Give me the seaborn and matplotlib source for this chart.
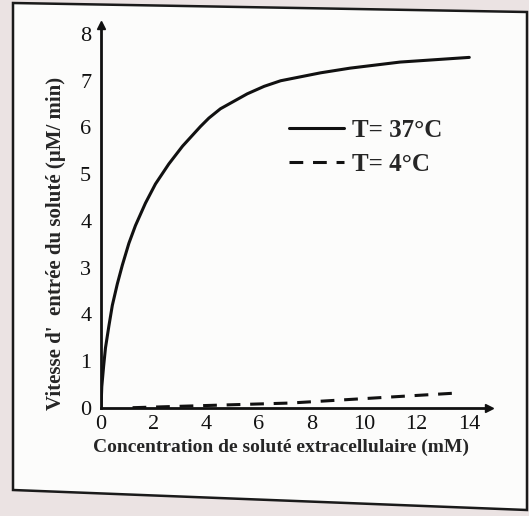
import numpy as np
import pandas as pd
import matplotlib
matplotlib.use("Agg")
import matplotlib.pyplot as plt
from matplotlib.patches import Polygon
from matplotlib.lines import Line2D
import seaborn as sns

# values
conc_37 = [0.0, 0.03, 0.1, 0.17, 0.3, 0.43, 0.62, 0.81, 1.06, 1.31, 1.69, 2.07,
           2.58, 3.1, 3.78, 4.1, 4.54, 5.56, 6.2, 6.83, 8.35, 9.47, 11.37, 14.0]
rate_37 = [0.0, 0.45, 0.89, 1.28, 1.75, 2.19, 2.65, 3.05, 3.52, 3.9, 4.38, 4.79,
           5.22, 5.6, 6.02, 6.2, 6.4, 6.72, 6.88, 7.0, 7.17, 7.27, 7.40, 7.50]
conc_4 = [1.2, 7.2, 13.7]
rate_4 = [0.0, 0.1, 0.32]

x_ticks = [0, 2, 4, 6, 8, 10, 12, 14]
y_ticks = [0, 1, 2, 3, 4, 5, 6, 7, 8]
y_tick_labels = ["0", "1", "4", "3", "4", "5", "6", "7", "8"]  # as printed
labels = ["T= 37°C", "T= 4°C"]

df37 = pd.DataFrame({"x": conc_37, "y": rate_37})
df4 = pd.DataFrame({"x": conc_4, "y": rate_4})

sns.set_style("white")
plt.rcParams['font.family'] = ['Liberation Serif', 'DejaVu Serif']

fig = plt.figure(figsize=(5.29, 5.16), dpi=100)
fig.patch.set_facecolor("#ebe3e3")

# scanned page frame
W, H = 529, 516
frame = [(13, 3), (527, 12), (527, 510), (13, 490)]
fig.patches.append(Polygon([(x / W, 1 - y / H) for x, y in frame], closed=True,
                           transform=fig.transFigure, facecolor="#fcfcfb",
                           edgecolor="#1a1a1a", lw=1.8, zorder=-5))

ax = fig.add_axes([101 / W, 108.3 / H, 388 / W, 383 / H])
ax.set_facecolor("none")

dash = (0, (4.5, 3.2))
sns.lineplot(data=df37, x="x", y="y", ax=ax, color="#111111", lw=2.2,
             solid_joinstyle="round")
sns.lineplot(data=df4, x="x", y="y", ax=ax, color="#111111", lw=2.2,
             linestyle=dash)

ax.set_xlim(0, 14.75)
ax.set_ylim(0, 8.2)
ax.set_xticks(x_ticks)
ax.set_yticks(y_ticks)
ax.set_yticklabels(y_tick_labels)
for s in ["top", "right"]:
    ax.spines[s].set_visible(False)
for s in ["left", "bottom"]:
    ax.spines[s].set_linewidth(2.0)
    ax.spines[s].set_color("#111111")
ax.tick_params(axis="both", labelsize=16, width=1.5, colors="#111111")
ax.tick_params(axis="y", direction="out", length=5, pad=2)
ax.tick_params(axis="x", direction="inout", length=7, pad=2)

# axis arrows
ax.plot(1, 0, ">", color="#111111", ms=6, transform=ax.transAxes, clip_on=False)
ax.plot(0, 1, "^", color="#111111", ms=6, transform=ax.transAxes, clip_on=False)

ax.set_xlabel("Concentration de soluté extracellulaire (mM)", fontsize=14,
              fontweight="bold")
ax.xaxis.set_label_coords(0.465, -0.08)
ax.set_ylabel("Vitesse d'  entrée du soluté (µM/ min)", fontsize=15,
              fontweight="bold")
ax.yaxis.set_label_coords(-0.09, 0.43)

handles = [Line2D([], [], color="#111111", lw=2.2),
           Line2D([], [], color="#111111", lw=2.2, linestyle=dash)]
ax.legend(handles, labels, loc="upper left", bbox_to_anchor=(0.485, 0.755),
          frameon=False, handlelength=2.2, handletextpad=0.3, labelspacing=0.45,
          borderpad=0, borderaxespad=0, prop={"size": 18, "weight": "bold"})

plt.savefig("out.png", dpi=100, facecolor=fig.get_facecolor())
